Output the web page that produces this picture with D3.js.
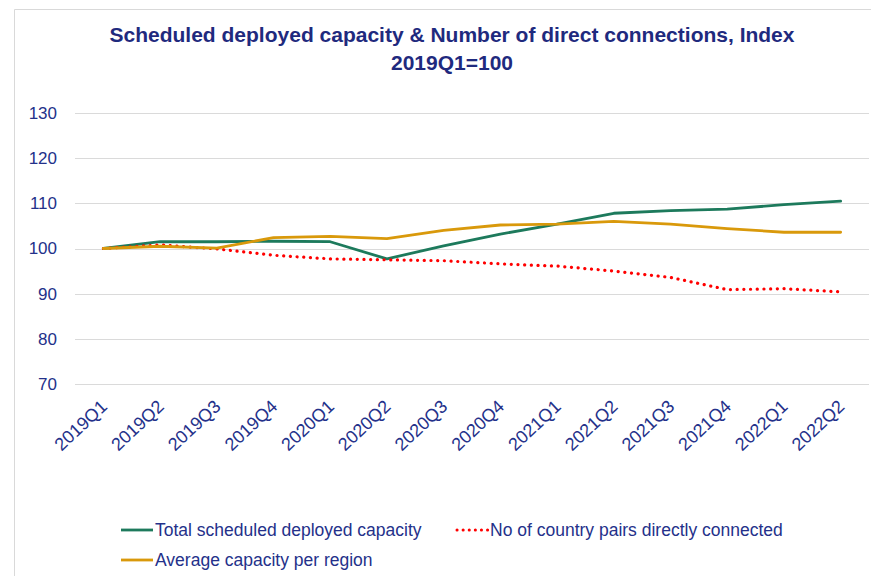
<!DOCTYPE html>
<html>
<head>
<meta charset="utf-8">
<script src="https://cdn.jsdelivr.net/npm/d3@7"></script>
<style>
    body { margin: 0; background: #fff; }
    text { font-family: "Liberation Sans Narrow", "Liberation Sans", sans-serif; }
</style>
</head>
<body>
<div id="svganchor"></div>
<script>
const width = 871;
const height = 576;
const margin = ({top: 113, right: 2, bottom: 192, left: 75});

// quarters on the x axis
const quarters = ["2019Q1", "2019Q2", "2019Q3", "2019Q4", "2020Q1", "2020Q2", "2020Q3",
    "2020Q4", "2021Q1", "2021Q2", "2021Q3", "2021Q4", "2022Q1", "2022Q2"];

// index values, 2019Q1 = 100
const totalCapacity = [100, 101.5, 101.5, 101.6, 101.5, 97.7, 100.6, 103.2, 105.4, 107.8, 108.4, 108.7, 109.7, 110.5];
const countryPairs = [100, 100.8, 99.9, 98.5, 97.7, 97.5, 97.3, 96.6, 96.1, 95.0, 93.6, 90.9, 91.1, 90.4];
const avgCapacity = [100, 100.5, 100.1, 102.4, 102.7, 102.2, 104.0, 105.2, 105.4, 106.0, 105.4, 104.4, 103.6, 103.6];

const yTicks = [70, 80, 90, 100, 110, 120, 130];

const seriesNames = ["Total scheduled deployed capacity", "No of country pairs directly connected", "Average capacity per region"];

const navy = "#24318a";

let series = [
    {name: seriesNames[0], values: totalCapacity, color: "#1d7a5c", dash: null},
    {name: seriesNames[1], values: countryPairs, color: "#ff0000", dash: "0.1,6.6"},
    {name: seriesNames[2], values: avgCapacity, color: "#d9990b", dash: null}
];

let svg = d3.select("#svganchor")
    .append("svg")
    .attr("width", width)
    .attr("height", height);

// chart frame
svg.append("path")
    .attr("d", "M14.5," + height + "V9.5H" + width)
    .attr("fill", "none")
    .attr("stroke", "#d9d9d9");

let xScale = d3.scaleBand()
    .domain(quarters)
    .range([margin.left, width - margin.right]);

let yScale = d3.scaleLinear()
    .domain([70, 130])
    .range([height - margin.bottom, margin.top]);

// gridlines
svg.append("g")
    .selectAll("line")
    .data(yTicks)
    .enter()
    .append("line")
    .attr("x1", margin.left)
    .attr("x2", width - margin.right)
    .attr("y1", d => Math.round(yScale(d)) + 0.5)
    .attr("y2", d => Math.round(yScale(d)) + 0.5)
    .attr("stroke", "#dadada")
    .attr("stroke-width", 1.2);

let yAxis = d3.axisLeft(yScale)
    .tickValues(yTicks)
    .tickSize(0)
    .tickPadding(18);

svg.append("g")
    .attr("class", "y axis")
    .attr("transform", "translate(" + margin.left + ",0)")
    .call(yAxis)
    .call(g => g.select(".domain").remove())
    .selectAll("text")
    .attr("fill", navy)
    .style("font-size", "17px");

let xAxis = d3.axisBottom(xScale)
    .tickSize(0)
    .tickPadding(0);

svg.append("g")
    .attr("class", "x axis")
    .attr("transform", "translate(0," + (height - margin.bottom) + ")")
    .call(xAxis)
    .call(g => g.select(".domain").remove())
    .selectAll("text")
    .attr("fill", navy)
    .style("font-size", "18px")
    .attr("text-anchor", "end")
    .attr("dy", 0)
    .attr("transform", "translate(5,24) rotate(-43)");

let line = d3.line()
    .x((d, i) => xScale(quarters[i]) + xScale.bandwidth() / 2)
    .y(d => yScale(d));

svg.append("g")
    .selectAll("path")
    .data(series)
    .enter()
    .append("path")
    .attr("d", d => line(d.values))
    .attr("fill", "none")
    .attr("stroke", d => d.color)
    .attr("stroke-width", d => d.dash ? 3.2 : 2.8)
    .attr("stroke-linecap", "round")
    .attr("stroke-linejoin", "round")
    .attr("stroke-dasharray", d => d.dash);

// title
let title = svg.append("text")
    .attr("x", 452)
    .attr("y", 42)
    .attr("text-anchor", "middle")
    .attr("fill", "#1f2a7e")
    .style("font-size", "21px")
    .style("font-weight", "bold");

title.append("tspan")
    .attr("x", 452)
    .text("Scheduled deployed capacity & Number of direct connections, Index");
title.append("tspan")
    .attr("x", 452)
    .attr("dy", 28)
    .text("2019Q1=100");

// legend
const legendPos = [[121, 530], [456, 530], [121, 560]];

let legend = svg.append("g")
    .selectAll("g")
    .data(series)
    .enter()
    .append("g")
    .attr("transform", (d, i) => "translate(" + legendPos[i][0] + "," + legendPos[i][1] + ")");

legend.append("line")
    .attr("x1", d => d.dash ? 1 : 0)
    .attr("x2", 32)
    .attr("stroke", d => d.color)
    .attr("stroke-width", d => d.dash ? 3 : 2.8)
    .attr("stroke-linecap", d => d.dash ? "round" : "butt")
    .attr("stroke-dasharray", d => d.dash ? "0.1,6" : null);

legend.append("text")
    .attr("x", 34)
    .attr("y", 6)
    .attr("fill", navy)
    .style("font-size", "17.5px")
    .text(d => d.name);
</script>
</body>
</html>
